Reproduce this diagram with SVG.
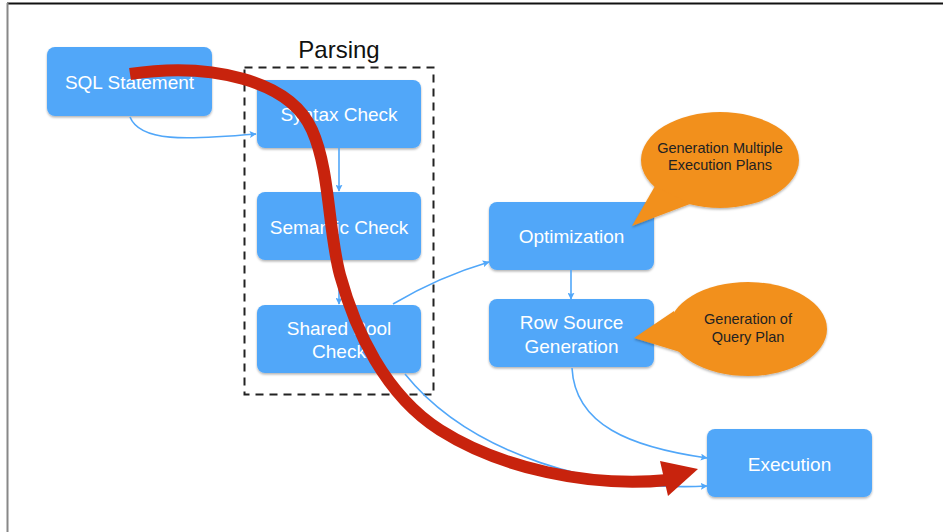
<svg xmlns="http://www.w3.org/2000/svg" width="943" height="532" viewBox="0 0 943 532">
<defs>
<filter id="sh" x="-10%" y="-10%" width="120%" height="130%">
<feDropShadow dx="0" dy="1.5" stdDeviation="1" flood-color="#000" flood-opacity="0.3"/>
</filter>
<marker id="ar" viewBox="0 0 10 10" refX="9" refY="5" markerWidth="7" markerHeight="7" markerUnits="userSpaceOnUse" orient="auto">
<path d="M0,0 L10,5 L0,10 L2,5 Z" fill="#51a7f9"/>
</marker>
</defs>
<style>
.box{fill:#51a7f9;filter:url(#sh)}
.t{font-family:"Liberation Sans",Arial,sans-serif;font-size:19px;fill:#fff;text-anchor:middle}
.c{font-family:"Liberation Sans",Arial,sans-serif;font-size:14.5px;fill:#222;text-anchor:middle}
.con{fill:none;stroke:#51a7f9;stroke-width:1.6;marker-end:url(#ar)}
.bub{fill:#f2901d;filter:url(#sh)}
</style>
<rect width="943" height="532" fill="#fff"/>
<line x1="7" y1="3.5" x2="943" y2="3.5" stroke="#111" stroke-width="2"/>
<line x1="7.5" y1="3" x2="7.5" y2="532" stroke="#888" stroke-width="2"/>

<text x="339" y="58" font-family="'Liberation Sans',Arial,sans-serif" font-size="24" fill="#111" text-anchor="middle">Parsing</text>
<rect x="244.5" y="67.5" width="189" height="327" fill="none" stroke="#222" stroke-width="2" stroke-dasharray="8,6"/>

<g id="sql"><rect class="box" x="47" y="47" width="165" height="69" rx="8"/><text class="t" x="129.5" y="89">SQL Statement</text></g>
<g id="syntax"><rect class="box" x="257" y="80" width="164" height="68" rx="8"/><text class="t" x="339" y="121">Syntax Check</text></g>
<g id="semantic"><rect class="box" x="257" y="192" width="164" height="68" rx="8"/><text class="t" x="339" y="234">Semantic Check</text></g>
<g id="shared"><rect class="box" x="257" y="305" width="164" height="68" rx="8"/><text class="t" x="339" y="335">Shared Pool</text><text class="t" x="339" y="358">Check</text></g>
<g id="opt"><rect class="box" x="489" y="202" width="165" height="68" rx="8"/><text class="t" x="571.5" y="243">Optimization</text></g>
<g id="row"><rect class="box" x="489" y="299" width="165" height="68" rx="8"/><text class="t" x="571.5" y="329">Row Source</text><text class="t" x="571.5" y="353">Generation</text></g>
<g id="exec"><rect class="box" x="707" y="429" width="165" height="68" rx="8"/><text class="t" x="789.5" y="471">Execution</text></g>

<g id="callout1"><g class="bub"><ellipse cx="720" cy="160" rx="79" ry="48"/><path d="M655,186 L632,226 L690,204 Z"/></g><text class="c" x="720" y="153">Generation Multiple</text><text class="c" x="720" y="170">Execution Plans</text></g>
<g id="callout2"><g class="bub"><ellipse cx="748" cy="329" rx="79" ry="47"/><path d="M674,311 L634,338 L680,352 Z"/></g><text class="c" x="748" y="324">Generation of</text><text class="c" x="748" y="342">Query Plan</text></g>

<g id="connectors">
<path class="con" d="M130,117 C140,142 185,140 256,134"/>
<path class="con" d="M339,148 L339,191"/>
<path class="con" d="M339,260 L339,304"/>
<path class="con" d="M393,304 C420,288 455,272 489,262"/>
<path class="con" d="M571,270 L571,299"/>
<path class="con" d="M572,368 C575,425 630,447 707,458"/>
<path class="con" d="M405,374 C470,455 600,492 707,486"/>
</g>

<g id="flow">
<path d="M130,74 C210,62 290,80 312,130 C330,170 328,230 340,275 C355,330 385,395 440,430 C500,468 590,488 668,480" fill="none" stroke="#c8230d" stroke-width="12"/>
<path d="M660,461 L698,469 L668,496 Z" fill="#c8230d"/>
</g>
</svg>
